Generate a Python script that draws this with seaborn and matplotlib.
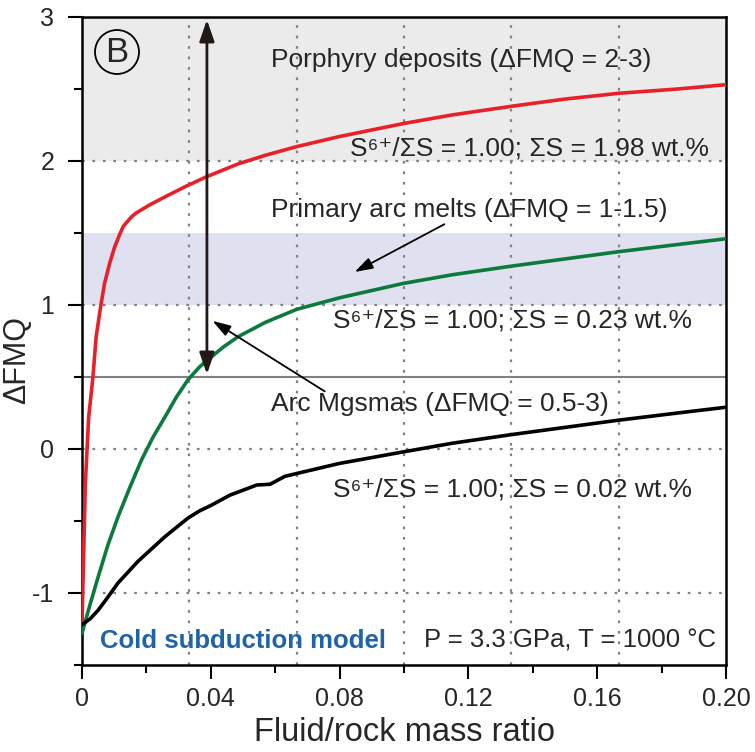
import numpy as np
import pandas as pd
import matplotlib.pyplot as plt
import seaborn as sns
from matplotlib.patches import Circle

# Curves (fluid/rock mass ratio vs dFMQ)
red_x = [0, 0.0005, 0.00104, 0.00207, 0.0034, 0.0044, 0.0058, 0.0070, 0.0086, 0.0101, 0.0117, 0.0128,
         0.0143, 0.0155, 0.0169, 0.0210, 0.0257, 0.0319, 0.0386, 0.0485, 0.057, 0.0667, 0.08, 0.0998,
         0.115, 0.1334, 0.15, 0.1666, 0.185, 0.2]
red_y = [-1.22, -0.75, -0.24, 0.22, 0.50, 0.78, 0.99, 1.15, 1.29, 1.40, 1.49, 1.545,
         1.585, 1.615, 1.64, 1.695, 1.75, 1.82, 1.89, 1.98, 2.04, 2.10, 2.17, 2.26,
         2.32, 2.38, 2.43, 2.47, 2.50, 2.53]

green_x = [0, 0.0025, 0.005, 0.008, 0.0112, 0.0148, 0.0184, 0.022, 0.0257, 0.0293, 0.0329, 0.0365,
           0.0402, 0.044, 0.0485, 0.057, 0.0667, 0.08, 0.0998, 0.115, 0.1334, 0.15, 0.1666, 0.185, 0.2]
green_y = [-1.28, -1.08, -0.89, -0.67, -0.47, -0.27, -0.08, 0.08, 0.22, 0.36, 0.48, 0.57,
           0.64, 0.71, 0.78, 0.88, 0.97, 1.05, 1.15, 1.21, 1.27, 1.32, 1.37, 1.42, 1.46]

black_x = [0, 0.0025, 0.005, 0.008, 0.0112, 0.0174, 0.0257, 0.0329, 0.0365, 0.0402, 0.046, 0.0543,
           0.0584, 0.063, 0.0667, 0.08, 0.0998, 0.115, 0.1334, 0.15, 0.1666, 0.185, 0.2]
black_y = [-1.22, -1.18, -1.12, -1.03, -0.93, -0.78, -0.61, -0.48, -0.43, -0.39, -0.32, -0.25,
           -0.245, -0.19, -0.17, -0.10, -0.02, 0.04, 0.10, 0.15, 0.20, 0.25, 0.29]

labels = ['S⁶⁺/ΣS = 1.00; ΣS = 1.98 wt.%',
          'S⁶⁺/ΣS = 1.00; ΣS = 0.23 wt.%',
          'S⁶⁺/ΣS = 1.00; ΣS = 0.02 wt.%']

sns.set_style('ticks')
plt.rcParams['font.family'] = ['Liberation Sans', 'DejaVu Sans']

fig = plt.figure(figsize=(7.55, 7.52), dpi=100)
ax = fig.add_axes([0.1086, 0.1157, 0.853, 0.8617])

# shaded ranges
ax.axhspan(2, 3, color='#ebebeb', zorder=0, lw=0)
ax.axhspan(1, 1.5, color='#e0e1f0', zorder=0, lw=0)
ax.axhline(0.5, color='#808080', lw=1.5, zorder=1)

# dotted grid
for gy in [-1, 0, 1, 2]:
    ax.axhline(gy, color='#808080', lw=1.6, ls=(0, (1.2, 3.5)), zorder=1)
for gx in [1/30, 2/30, 3/30, 4/30, 5/30]:
    ax.axvline(gx, color='#808080', lw=1.6, ls=(0, (1.2, 3.5)), zorder=1)

red = pd.DataFrame({'x': red_x, 'y': red_y})
green = pd.DataFrame({'x': green_x, 'y': green_y})
black = pd.DataFrame({'x': black_x, 'y': black_y})
sns.lineplot(data=red, x='x', y='y', color='#e8202a', lw=2.6, ax=ax, zorder=3)
sns.lineplot(data=green, x='x', y='y', color='#0b7a3c', lw=2.6, ax=ax, zorder=3)
sns.lineplot(data=black, x='x', y='y', color='black', lw=2.6, ax=ax, zorder=3)

# double arrow
ax.annotate('', xy=(0.0388, 3.0), xytext=(0.0388, 0.5),
            arrowprops=dict(arrowstyle='<|-|>,head_length=1.3,head_width=0.45', color='#231815', lw=2),
            zorder=4)

fs = 19
ax.text(0.0588, 2.70, 'Porphyry deposits (ΔFMQ = 2-3)', fontsize=fs, va='center')
ax.text(0.0832, 2.09, labels[0], fontsize=fs, va='center')
ax.text(0.0588, 1.66, 'Primary arc melts (ΔFMQ = 1-1.5)', fontsize=fs, va='center')
ax.text(0.0780, 0.89, labels[1], fontsize=fs, va='center')
ax.text(0.0588, 0.31, 'Arc Mgsmas (ΔFMQ = 0.5-3)', fontsize=fs, va='center')
ax.text(0.0780, -0.28, labels[2], fontsize=fs, va='center')
ax.text(0.0056, -1.33, 'Cold subduction model', fontsize=18.5, color='#1f64a8',
        fontweight='bold', va='center')
ax.text(0.197, -1.33, 'P = 3.3 GPa, T = 1000 °C', fontsize=18.5, va='center', ha='right')

ax.annotate('', xy=(0.0839, 1.22), xytext=(0.1133, 1.57),
            arrowprops=dict(arrowstyle='-|>,head_length=1.1,head_width=0.35', color='black', lw=1.3))
ax.annotate('', xy=(0.0398, 0.90), xytext=(0.0761, 0.39),
            arrowprops=dict(arrowstyle='-|>,head_length=1.1,head_width=0.35', color='black', lw=1.3))

# panel label
ax.add_patch(Circle((117, 700), 22, transform=None, fill=False, ec='black', lw=1.3, zorder=5))
fig.text(117 / 755, 1 - 52 / 752, 'B', fontsize=25, ha='center', va='center')

ax.set_xlim(0, 0.2)
ax.set_ylim(-1.5, 3)
ax.set_xticks([0, 0.04, 0.08, 0.12, 0.16, 0.20])
ax.set_xticklabels(['0', '0.04', '0.08', '0.12', '0.16', '0.20'])
ax.set_xticks(np.arange(0.02, 0.2, 0.04), minor=True)
ax.set_yticks([-1, 0, 1, 2, 3])
ax.set_yticklabels(['-1', '0', '1', '2', '3'])
ax.set_yticks([-1.5, -0.5, 0.5, 1.5, 2.5], minor=True)
ax.tick_params(which='major', direction='out', length=10, width=1.5, labelsize=18, color='black')
ax.tick_params(axis='y', which='major', pad=10)
ax.tick_params(axis='x', which='major', pad=6)
ax.tick_params(which='minor', direction='out', length=6, width=1.5, color='black')
for s in ax.spines.values():
    s.set_linewidth(1.8)
    s.set_color('black')

ax.set_xlabel('Fluid/rock mass ratio', fontsize=23.5, labelpad=4)
ax.set_ylabel('ΔFMQ', fontsize=22)
ax.yaxis.set_label_coords(-0.078, 0.47)

fig.savefig('out.png', dpi=100)
